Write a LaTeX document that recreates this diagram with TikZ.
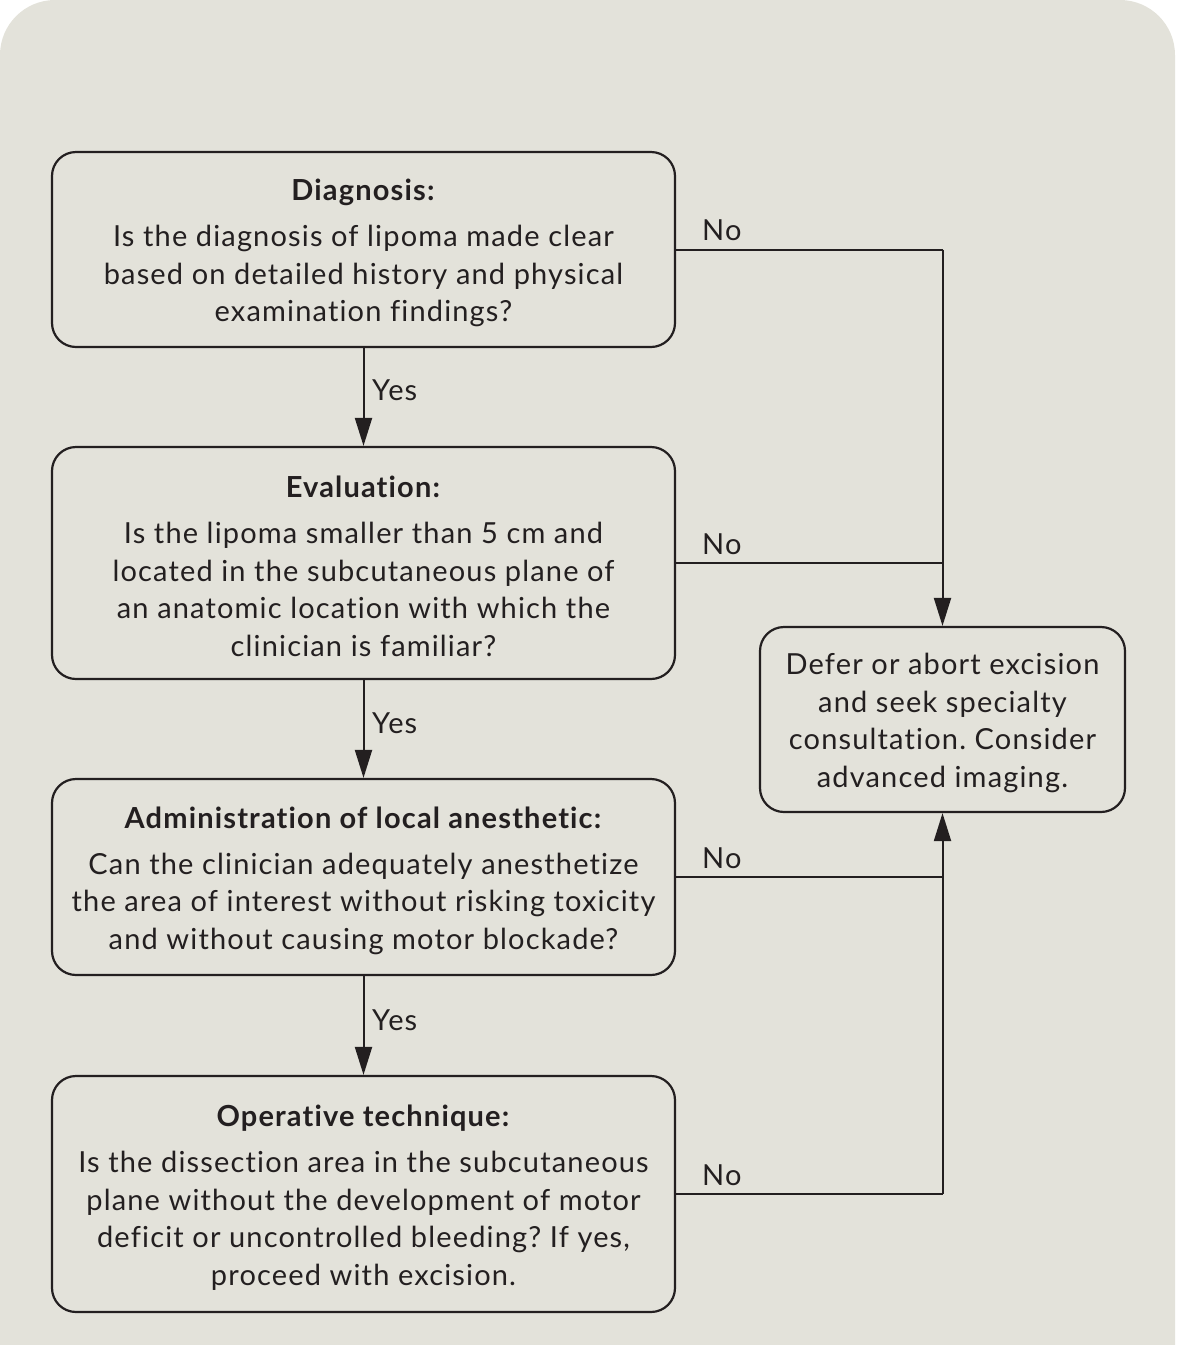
\documentclass[tikz,border=0pt]{standalone}
\usepackage{fontspec}
\setmainfont{Lato}[LetterSpace=4,Ligatures=NoCommon]
\usetikzlibrary{arrows.meta}
\definecolor{bg}{HTML}{E3E2DA}
\definecolor{ink}{HTML}{231F20}
\frenchspacing
\begin{document}
\begin{tikzpicture}[x=1pt,y=-1pt,
  box/.style={draw=ink, line width=2.2pt, rounded corners=24pt, fill=bg,
    minimum width=623pt, inner sep=0pt},
  sidebox/.style={box, minimum width=365pt},
  txt/.style={align=center, text=ink, inner sep=0pt,
    font=\fontsize{29}{37.5}\selectfont\frenchspacing},
  conn/.style={draw=ink, line width=2pt},
  arr/.style={conn, -{Triangle[width=17pt,length=28pt]}},
  lbl/.style={text=ink, font=\fontsize{29}{30}\selectfont, inner sep=0pt, anchor=west}]
\useasboundingbox (0,0) rectangle (1177,1345);
\fill[bg, rounded corners=55pt] (0,0) rectangle (1175,1445);
\node[box, minimum height=195pt] (b1) at (363.5,249.5) {};
\node[txt] (t1) at ([yshift=-3.5pt]b1.center) {\textbf{Diagnosis:}\\[8.5pt]
  Is the diagnosis of lipoma made clear\\
  based on detailed history and physical\\
  examination findings?};
\node[box, minimum height=232pt] (b2) at (363.5,563) {};
\node[txt] (t2) at ([yshift=-3.5pt]b2.center) {\textbf{Evaluation:}\\[8.5pt]
  Is the lipoma smaller than 5 cm and\\
  located in the subcutaneous plane of\\
  an anatomic location with which the\\
  clinician is familiar?};
\node[box, minimum height=196pt] (b3) at (363.5,877) {};
\node[txt] (t3) at ([yshift=-3.5pt]b3.center) {\textbf{Administration of local anesthetic:}\\[8.5pt]
  Can the clinician adequately anesthetize\\
  the area of interest without risking toxicity\\
  and without causing motor blockade?};
\node[box, minimum height=236pt] (b4) at (363.5,1194) {};
\node[txt] (t4) at ([yshift=-3.5pt]b4.center) {\textbf{Operative technique:}\\[8.5pt]
  Is the dissection area in the subcutaneous\\
  plane without the development of motor\\
  deficit or uncontrolled bleeding? If yes,\\
  proceed with excision.};
\node[sidebox, minimum height=185pt] (r) at (942.5,719.5) {};
\node[txt] (tr) at ([yshift=-3.5pt]r.center) {Defer or abort excision\\
  and seek specialty\\
  consultation. Consider\\
  advanced imaging.};
\draw[arr] (b1.south) -- (b2.north);
\draw[arr] (b2.south) -- (b3.north);
\draw[arr] (b3.south) -- (b4.north);
\coordinate (c1) at (b1.east -| r.north);
\coordinate (c2) at (b2.east -| r.north);
\coordinate (c3) at (b3.east -| r.north);
\coordinate (c4) at (b4.east -| r.north);
\draw[conn] (b1.east) -- (c1);
\draw[arr] (c1) -- (r.north);
\draw[conn] (b2.east) -- (c2);
\draw[conn] (b3.east) -- (c3);
\draw[conn] (b4.east) -- (c4);
\draw[arr] (c4) -- (r.south);
\node[lbl] (y1) at (372,390) {Yes};
\node[lbl] (y2) at (372,723) {Yes};
\node[lbl] (y3) at (372,1020) {Yes};
\node[lbl] (n1) at (702,230) {No};
\node[lbl] (n2) at (702,544) {No};
\node[lbl] (n3) at (702,858) {No};
\node[lbl] (n4) at (702,1175) {No};
\end{tikzpicture}
\end{document}
